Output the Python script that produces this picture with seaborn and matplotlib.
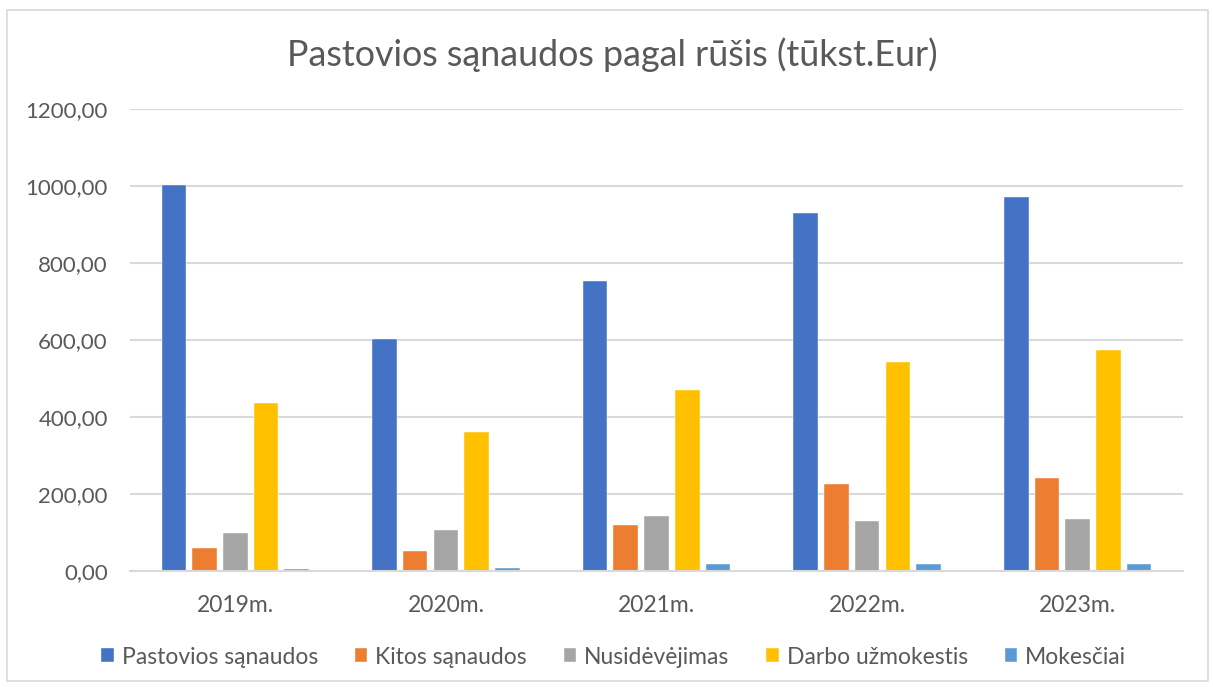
import numpy as np
import pandas as pd
import matplotlib
matplotlib.use("Agg")
import matplotlib.pyplot as plt
import seaborn as sns
from matplotlib.patches import Rectangle
from matplotlib.ticker import FuncFormatter

years = ["2019m.", "2020m.", "2021m.", "2022m.", "2023m."]
series = ["Pastovios sąnaudos", "Kitos sąnaudos", "Nusidėvėjimas",
          "Darbo užmokestis", "Mokesčiai"]
pastovios = [1003, 603, 753, 929, 972]
kitos = [59, 52, 119, 227, 241]
nusidevejimas = [98, 106, 142, 131, 134]
darbo = [437, 360, 470, 543, 573]
mokesciai = [5, 9, 18, 18, 18]
colors = ["#4472C4", "#ED7D31", "#A5A5A5", "#FFC000", "#5B9BD5"]
yticks = [0, 200, 400, 600, 800, 1000, 1200]

rows = []
for name, vals in zip(series, [pastovios, kitos, nusidevejimas, darbo, mokesciai]):
    for y, v in zip(years, vals):
        rows.append({"year": y, "series": name, "value": v})
df = pd.DataFrame(rows)

sns.set_theme(style="white")
plt.rcParams["font.family"] = ["Lato", "DejaVu Sans"]
txt = "#595959"
grid = "#D9D9D9"

fig = plt.figure(figsize=(12.13, 6.87), dpi=100)
fig.patches.append(Rectangle((7 / 1213, 1 - 681 / 687), 1201 / 1213, 671 / 687,
                             transform=fig.transFigure, fill=False,
                             edgecolor=grid, linewidth=1.2))
ax = fig.add_axes([130 / 1213, 1 - 571 / 687, 1053 / 1213, 462 / 687])

sns.barplot(data=df, x="year", y="value", hue="series", order=years,
            hue_order=series, palette=colors, saturation=1, width=0.73,
            gap=0.2, edgecolor="white", linewidth=0.3, ax=ax, legend=True)

ax.set_ylim(0, 1200)
ax.set_xlim(-0.5, 4.5)
ax.set_yticks(yticks)
ax.yaxis.set_major_formatter(FuncFormatter(lambda v, p: f"{v:.2f}".replace(".", ",")))
ax.grid(axis="y", color=grid, linewidth=1.5)
ax.set_axisbelow(True)
for s in ["top", "right", "left"]:
    ax.spines[s].set_visible(False)
ax.spines["bottom"].set_color(grid)
ax.spines["bottom"].set_linewidth(1.5)
ax.tick_params(axis="both", length=0, colors=txt)
ax.tick_params(axis="x", labelsize=16.5, pad=17)
ax.tick_params(axis="y", labelsize=16, pad=16)
ax.set_xlabel("")
ax.set_ylabel("")

handles, labels = ax.get_legend_handles_labels()
ax.get_legend().remove()
fig.legend(handles, labels, loc="center", bbox_to_anchor=(0.506, 1 - 657 / 687),
           ncol=5, frameon=False, fontsize=16.5, labelcolor=txt,
           handlelength=0.55, handleheight=0.55, handletextpad=0.35,
           columnspacing=1.6)

fig.text(0.505, 1 - 55 / 687, "Pastovios sąnaudos pagal rūšis (tūkst.Eur)",
         ha="center", va="center", fontsize=25.8, color=txt)

fig.savefig("out.png", dpi=100, facecolor="white")
